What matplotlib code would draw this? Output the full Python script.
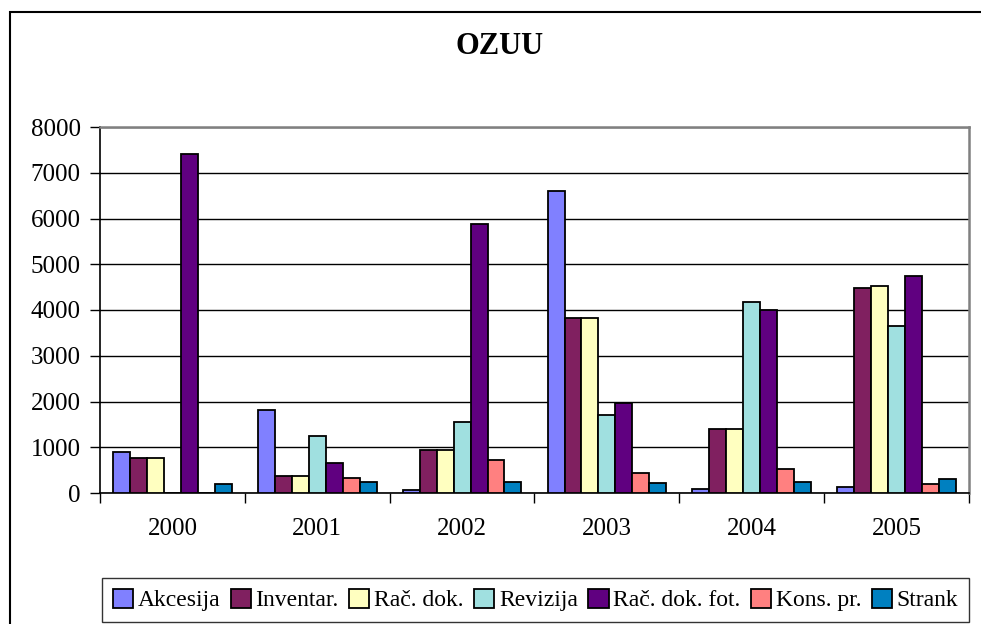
import numpy as np
import matplotlib
matplotlib.use("Agg")
import matplotlib.pyplot as plt
from matplotlib.patches import Rectangle

plt.rcParams['font.family'] = ['Liberation Serif', 'DejaVu Serif']

years = ['2000', '2001', '2002', '2003', '2004', '2005']
series = ['Akcesija', 'Inventar.', 'Rač. dok.', 'Revizija', 'Rač. dok. fot.', 'Kons. pr.', 'Strank']

akcesija = [900, 1810, 70, 6600, 80, 130]
inventar = [760, 380, 940, 3820, 1390, 4480]
rac_dok = [760, 380, 940, 3820, 1390, 4530]
revizija = [0, 1250, 1560, 1700, 4180, 3640]
rac_dok_fot = [7420, 650, 5870, 1960, 4000, 4750]
kons_pr = [0, 330, 730, 430, 520, 200]
strank = [200, 250, 250, 220, 250, 300]

values = [akcesija, inventar, rac_dok, revizija, rac_dok_fot, kons_pr, strank]
colors = ['#8080FF', '#802060', '#FFFFC0', '#A0E0E0', '#600080', '#FF8080', '#0080C0']

W, H = 981, 624
fig = plt.figure(figsize=(W / 100, H / 100), dpi=100)

# outer chart border
fig.patches.append(Rectangle((10 / W, -0.1), 1.2, 1 - 12 / H + 0.1, transform=fig.transFigure,
                             fill=False, edgecolor='black', linewidth=1.5))

ax = fig.add_axes([100 / W, 1 - 493 / H, 869 / W, 366 / H])

x = np.arange(len(years))
bw = 0.117
for i, (name, vals) in enumerate(zip(series, values)):
    ax.bar(x + (i - 3) * bw, vals, bw, color=colors[i], edgecolor='black',
           linewidth=1.3, label=name, zorder=3)

ax.set_xlim(-0.5, len(years) - 0.5)
ax.set_ylim(0, 8000)
ax.set_yticks(np.arange(0, 8001, 1000))
ax.yaxis.grid(True, color='black', linewidth=1.0, zorder=0)

ax.set_xticks(x)
ax.set_xticklabels(years)
ax.set_xticks(np.arange(-0.5, len(years)), minor=True)
ax.tick_params(axis='x', which='major', length=0, labelsize=18, pad=18)
ax.tick_params(axis='x', which='minor', length=7, width=1, direction='out')
ax.tick_params(axis='y', length=7, width=1, direction='out', labelsize=18, pad=7)

for s in ['top', 'right']:
    ax.spines[s].set_color('#808080')
    ax.spines[s].set_linewidth(1.8)
ax.spines['left'].set_linewidth(1.2)
ax.spines['bottom'].set_linewidth(1.2)

fig.text(500 / W, 1 - 47 / H, 'OZUU', ha='center', va='center', fontsize=22, fontweight='bold')

leg = fig.legend(loc='lower left', bbox_to_anchor=(102 / W, 1 - 622 / H, 867 / W, 46 / H),
                 mode='expand', ncol=7, fontsize=17, frameon=True, fancybox=False,
                 edgecolor='black', handlelength=0.85, handleheight=0.85, handletextpad=0.2,
                 columnspacing=0.3, borderpad=0.45, borderaxespad=0)
leg.get_frame().set_linewidth(1.0)

fig.savefig('out.png', dpi=100)
